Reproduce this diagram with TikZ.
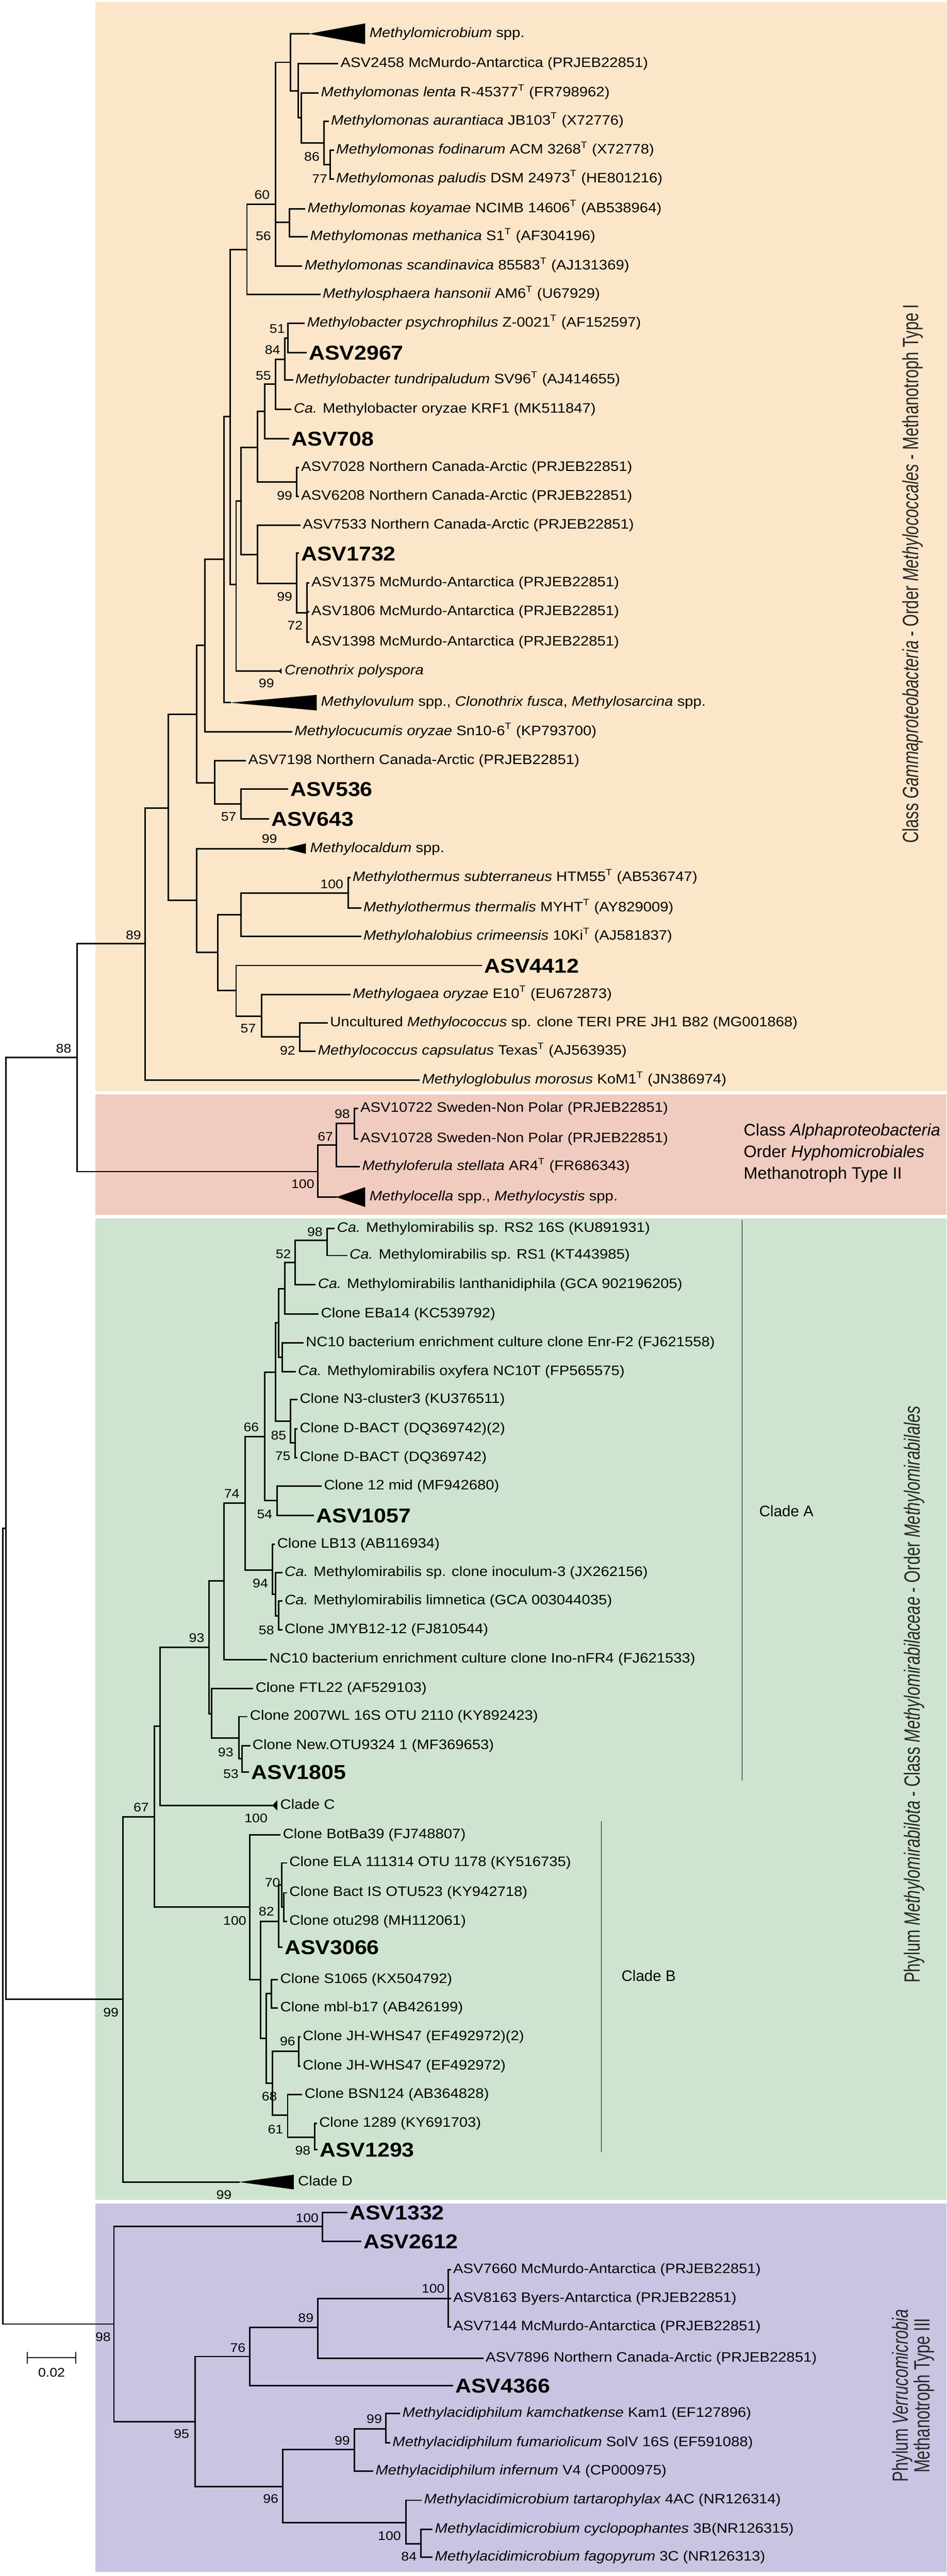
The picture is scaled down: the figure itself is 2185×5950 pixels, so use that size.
\documentclass[tikz,border=0pt]{standalone}
\usepackage{fontspec}
\setmainfont{Liberation Sans}[FakeStretch=1.1]
\newfontfamily\sidefont{Liberation Sans}
\newfontfamily\sidenarrow{Liberation Sans}[FakeStretch=0.72]
\definecolor{gamfill}{RGB}{251,230,202}
\definecolor{alpfill}{RGB}{240,204,192}
\definecolor{mirfill}{RGB}{206,228,208}
\definecolor{verfill}{RGB}{201,196,226}
\begin{document}
\begin{tikzpicture}[x=0.01cm,y=-0.01cm]
    \tikzstyle{br}=[line width=1pt,line cap=rect]
    \tikzstyle{lf}=[anchor=west,inner xsep=2pt,inner ysep=0pt,outer sep=0pt,font=\fontsize{9}{10}\selectfont,text height=6.6pt,text depth=1.9pt]
    \tikzstyle{asv}=[lf,font=\fontsize{13.2}{14}\selectfont\bfseries,text height=9.5pt,text depth=0pt]
    \tikzstyle{bs}=[inner sep=0pt,font=\fontsize{8.2}{9}\selectfont]
    \tikzstyle{side}=[inner sep=0pt,text=black!85,font=\sidenarrow\fontsize{14.5}{14}\selectfont]
    \tikzstyle{clab}=[anchor=west,inner sep=0pt,font=\sidefont\fontsize{10}{12}\selectfont]
    \useasboundingbox (0,0) rectangle (2185,5950);
    \fill[gamfill] (220,5) rectangle (2185,2520);
    \fill[alpfill] (220,2528) rectangle (2185,2806);
    \fill[mirfill] (220,2814) rectangle (2185,5081);
    \fill[verfill] (220,5089) rectangle (2185,5940);

    \node[lf] (mmic) at (846,78) {\textit{Methylomicrobium} spp.};
    \node[lf] (a2458) at (779,147) {ASV2458 McMurdo-Antarctica (PRJEB22851)};
    \node[lf] (mlen) at (734,215) {\textit{Methylomonas lenta} R-45377\textsuperscript{T} (FR798962)};
    \node[lf] (maur) at (757,280) {\textit{Methylomonas aurantiaca} JB103\textsuperscript{T} (X72776)};
    \node[lf] (mfod) at (769,347) {\textit{Methylomonas fodinarum} ACM 3268\textsuperscript{T} (X72778)};
    \node[lf] (mpal) at (769,413) {\textit{Methylomonas paludis} DSM 24973\textsuperscript{T} (HE801216)};
    \node[lf] (mkoy) at (703,482) {\textit{Methylomonas koyamae} NCIMB 14606\textsuperscript{T} (AB538964)};
    \node[lf] (mmet) at (709,547) {\textit{Methylomonas methanica} S1\textsuperscript{T} (AF304196)};
    \node[lf] (msca) at (696,615) {\textit{Methylomonas scandinavica} 85583\textsuperscript{T} (AJ131369)};
    \node[lf] (mhan) at (738,680) {\textit{Methylosphaera hansonii} AM6\textsuperscript{T} (U67929)};
    \node[lf] (mpsy) at (702,747) {\textit{Methylobacter psychrophilus} Z-0021\textsuperscript{T} (AF152597)};
    \node[asv] (a2967) at (706,815) {ASV2967};
    \node[lf] (mtun) at (675,878) {\textit{Methylobacter tundripaludum} SV96\textsuperscript{T} (AJ414655)};
    \node[lf] (mory) at (671,945) {\textit{Ca.} Methylobacter oryzae KRF1 (MK511847)};
    \node[asv] (a708) at (666,1013) {ASV708};
    \node[lf] (a7028) at (688,1080) {ASV7028 Northern Canada-Arctic (PRJEB22851)};
    \node[lf] (a6208) at (688,1147) {ASV6208 Northern Canada-Arctic (PRJEB22851)};
    \node[lf] (a7533) at (692,1213) {ASV7533 Northern Canada-Arctic (PRJEB22851)};
    \node[asv] (a1732) at (688,1278) {ASV1732};
    \node[lf] (a1375) at (712,1347) {ASV1375 McMurdo-Antarctica (PRJEB22851)};
    \node[lf] (a1806) at (712,1413) {ASV1806 McMurdo-Antarctica (PRJEB22851)};
    \node[lf] (a1398) at (712,1483) {ASV1398 McMurdo-Antarctica (PRJEB22851)};
    \node[lf] (cpol) at (650,1550) {\textit{Crenothrix polyspora}};
    \node[lf] (movu) at (734,1623) {\textit{Methylovulum} spp., \textit{Clonothrix fusca}, \textit{Methylosarcina} spp.};
    \node[lf] (mcuc) at (673,1690) {\textit{Methylocucumis oryzae} Sn10-6\textsuperscript{T} (KP793700)};
    \node[lf] (a7198) at (566,1757) {ASV7198 Northern Canada-Arctic (PRJEB22851)};
    \node[asv] (a536) at (663,1823) {ASV536};
    \node[asv] (a643) at (619,1892) {ASV643};
    \node[lf] (mcal) at (709,1960) {\textit{Methylocaldum} spp.};
    \node[lf] (msub) at (807,2027) {\textit{Methylothermus subterraneus} HTM55\textsuperscript{T} (AB536747)};
    \node[lf] (mthe) at (832,2097) {\textit{Methylothermus thermalis} MYHT\textsuperscript{T} (AY829009)};
    \node[lf] (mcri) at (832,2163) {\textit{Methylohalobius crimeensis} 10Ki\textsuperscript{T} (AJ581837)};
    \node[asv] (a4412) at (1111,2230) {ASV4412};
    \node[lf] (mgae) at (807,2297) {\textit{Methylogaea oryzae} E10\textsuperscript{T} (EU672873)};
    \node[lf] (munc) at (755,2363) {Uncultured \textit{Methylococcus} sp. clone TERI PRE JH1 B82 (MG001868)};
    \node[lf] (mcap) at (727,2428) {\textit{Methylococcus capsulatus} Texas\textsuperscript{T} (AJ563935)};
    \node[lf] (mglo) at (967,2495) {\textit{Methyloglobulus morosus} KoM1\textsuperscript{T} (JN386974)};

    \node[lf] (a10722) at (825,2560) {ASV10722 Sweden-Non Polar (PRJEB22851)};
    \node[lf] (a10728) at (825,2630) {ASV10728 Sweden-Non Polar (PRJEB22851)};
    \node[lf] (mste) at (829,2695) {\textit{Methyloferula stellata} AR4\textsuperscript{T} (FR686343)};
    \node[lf] (mcel) at (846,2765) {\textit{Methylocella} spp., \textit{Methylocystis} spp.};

    \node[lf] (rs2) at (771,2838) {\textit{Ca.} Methylomirabilis sp. RS2 16S (KU891931)};
    \node[lf] (rs1) at (800,2900) {\textit{Ca.} Methylomirabilis sp. RS1 (KT443985)};
    \node[lf] (mlan) at (727,2967) {\textit{Ca.} Methylomirabilis lanthanidiphila (GCA 902196205)};
    \node[lf] (eba) at (734,3035) {Clone EBa14 (KC539792)};
    \node[lf] (enr) at (699,3102) {NC10 bacterium enrichment culture clone Enr-F2 (FJ621558)};
    \node[lf] (moxy) at (681,3168) {\textit{Ca.} Methylomirabilis oxyfera NC10T (FP565575)};
    \node[lf] (n3c) at (685,3233) {Clone N3-cluster3 (KU376511)};
    \node[lf] (dba2) at (685,3300) {Clone D-BACT (DQ369742)(2)};
    \node[lf] (dba) at (685,3367) {Clone D-BACT (DQ369742)};
    \node[lf] (c12m) at (741,3432) {Clone 12 mid (MF942680)};
    \node[asv] (a1057) at (723,3500) {ASV1057};
    \node[lf] (lb13) at (633,3567) {Clone LB13 (AB116934)};
    \node[lf] (inoc) at (650,3632) {\textit{Ca.} Methylomirabilis sp. clone inoculum-3 (JX262156)};
    \node[lf] (mlim) at (650,3698) {\textit{Ca.} Methylomirabilis limnetica (GCA 003044035)};
    \node[lf] (jmyb) at (650,3765) {Clone JMYB12-12 (FJ810544)};
    \node[lf] (ino) at (615,3833) {NC10 bacterium enrichment culture clone Ino-nFR4 (FJ621533)};
    \node[lf] (ftl) at (583,3900) {Clone FTL22 (AF529103)};
    \node[lf] (wl) at (570,3965) {Clone 2007WL 16S OTU 2110 (KY892423)};
    \node[lf] (otu9324) at (576,4032) {Clone New.OTU9324 1 (MF369653)};
    \node[asv] (a1805) at (573,4093) {ASV1805};
    \node[lf] (cladeC) at (640,4170) {Clade C};
    \node[lf] (bot) at (646,4238) {Clone BotBa39 (FJ748807)};
    \node[lf] (ela) at (661,4303) {Clone ELA 111314 OTU 1178 (KY516735)};
    \node[lf] (bact) at (661,4372) {Clone Bact IS OTU523 (KY942718)};
    \node[lf] (otu298) at (661,4438) {Clone otu298 (MH112061)};
    \node[asv] (a3066) at (650,4498) {ASV3066};
    \node[lf] (s1065) at (640,4572) {Clone S1065 (KX504792)};
    \node[lf] (mbl) at (640,4638) {Clone mbl-b17 (AB426199)};
    \node[lf] (jh2) at (692,4705) {Clone JH-WHS47 (EF492972)(2)};
    \node[lf] (jh) at (692,4772) {Clone JH-WHS47 (EF492972)};
    \node[lf] (bsn) at (696,4838) {Clone BSN124 (AB364828)};
    \node[lf] (c1289) at (730,4904) {Clone 1289 (KY691703)};
    \node[asv] (a1293) at (731,4965) {ASV1293};
    \node[lf] (cladeD) at (681,5040) {Clade D};

    \node[asv] (a1332) at (800,5110) {ASV1332};
    \node[asv] (a2612) at (832,5177) {ASV2612};
    \node[lf] (a7660) at (1039,5242) {ASV7660 McMurdo-Antarctica (PRJEB22851)};
    \node[lf] (a8163) at (1039,5309) {ASV8163 Byers-Antarctica (PRJEB22851)};
    \node[lf] (a7144) at (1039,5375) {ASV7144 McMurdo-Antarctica (PRJEB22851)};
    \node[lf] (a7896) at (1114,5447) {ASV7896 Northern Canada-Arctic (PRJEB22851)};
    \node[asv] (a4366) at (1044,5510) {ASV4366};
    \node[lf] (mkam) at (922,5575) {\textit{Methylacidiphilum kamchatkense} Kam1 (EF127896)};
    \node[lf] (mfum) at (899,5642) {\textit{Methylacidiphilum fumariolicum} SolV 16S (EF591088)};
    \node[lf] (minf) at (860,5708) {\textit{Methylacidiphilum infernum} V4 (CP000975)};
    \node[lf] (mtar) at (972,5775) {\textit{Methylacidimicrobium tartarophylax} 4AC (NR126314)};
    \node[lf] (mcyc) at (997,5842) {\textit{Methylacidimicrobium cyclopophantes} 3B(NR126315)};
    \node[lf] (mfag) at (997,5907) {\textit{Methylacidimicrobium fagopyrum} 3C (NR126313)};

    \foreach \n/\ax/\bx/\y/\h in {tmmic/713/843/78/24, tcpol/643/650/1550/7, tmovu/531/731/1623/18,
        tmcal/657/706/1960/12, tmcel/776/843/2765/23, tcladeC/629/640/4170/12, tcladeD/552/678/5040/17}
    {
        \coordinate (\n) at (\ax,\y);
        \fill (\n) -- (\bx,\y-\h) -- (\bx,\y+\h) -- cycle;
    }

    \foreach \n/\x/\y in {nE/762/380, nD/748/330, nC/695/272, nB/688/210, nA/671/144, nH/668/514,
        nF/636/472, nG/570/576, nP1/665/781, nP2/657/830, nP3/636/887, nP4/611/950, nQ1/685/1113,
        nP5/594/1033, nR3/709/1415, nR2/685/1348, nR1/594/1281, nX/556/1157, nW/545/1350,
        nV/531/962, nU/517/1292, nS/473/1491, nT7/556/1857, nT6/496/1808, nZ1/454/1650,
        nM2/804/2063, nM1/556/2113, nK3/692/2395, nK2/604/2347, nK1/545/2288, nJ/503/2200,
        nZ2/454/2080, nY/389/1866, ngam/335/2180,
        nAl3/818/2595, nAl2/776/2645, nAl1/734/2706, n88/178/2443,
        g1/755/2865, g2/681/2916, g3/657/2977, g4/652/3135, g5/643/3055, g7/681/3333, g6/671/3283,
        g8/636/3169, g10/640/3466, g9/611/3318, g13/643/3732, g12/636/3682, g11/629/3627,
        g14/566/3472, g15/517/3652, g18/559/4062, g17/552/4014, g16/489/3958, g19/482/3805,
        g20/370/3987, b5/655/4405, b4/650/4354, b2/643/4438, b6/626/4605, b8/690/4738,
        b10/727/4937, b9/664/4886, b7/629/4812, b3/615/4708, b1/601/4573, b0/576/4405,
        g21/356/4197, g22/284/4618,
        v6/1035/5309, v5/734/5376, v4/577/5443, v8/891/5610, v7/818/5658, v10/972/5875,
        v9/937/5827, v11/653/5743, v3/450/5593, v2/744/5142, v1/263/5368,
        r2/14/3530, r1/7/4449}
        \coordinate (\n) at (\x,\y);

    \foreach \p/\c in {nE/mfod, nE/mpal, nD/maur, nD/nE, nC/mlen, nC/nD, nB/a2458, nB/nC,
        nA/tmmic, nA/nB, nH/mkoy, nH/mmet, nF/nA, nF/nH, nF/msca, nG/nF, nG/mhan,
        nP1/mpsy, nP1/a2967, nP2/nP1, nP2/mtun, nP3/nP2, nP3/mory, nP4/nP3, nP4/a708,
        nQ1/a7028, nQ1/a6208, nP5/nP4, nP5/nQ1, nR3/a1375, nR3/a1806, nR3/a1398,
        nR2/a1732, nR2/nR3, nR1/a7533, nR1/nR2, nX/nP5, nX/nR1, nW/nX, nW/tcpol,
        nV/nG, nV/nW, nU/nV, nU/tmovu, nS/nU, nS/mcuc, nT7/a536, nT7/a643, nT6/a7198,
        nT6/nT7, nZ1/nS, nZ1/nT6, nM2/msub, nM2/mthe, nM1/nM2, nM1/mcri, nK3/munc,
        nK3/mcap, nK2/mgae, nK2/nK3, nK1/a4412, nK1/nK2, nJ/nM1, nJ/nK1, nZ2/tmcal,
        nZ2/nJ, nY/nZ1, nY/nZ2, ngam/nY, ngam/mglo,
        nAl3/a10722, nAl3/a10728, nAl2/nAl3, nAl2/mste, nAl1/nAl2, nAl1/tmcel,
        n88/ngam, n88/nAl1,
        g1/rs2, g1/rs1, g2/g1, g2/mlan, g3/g2, g3/eba, g4/enr, g4/moxy, g5/g3, g5/g4,
        g7/dba2, g7/dba, g6/n3c, g6/g7, g8/g5, g8/g6, g10/c12m, g10/a1057, g9/g8, g9/g10,
        g13/mlim, g13/jmyb, g12/inoc, g12/g13, g11/lb13, g11/g12, g14/g9, g14/g11,
        g15/g14, g15/ino, g18/otu9324, g18/a1805, g17/wl, g17/g18, g16/ftl, g16/g17,
        g19/g15, g19/g16, g20/g19, g20/tcladeC, b5/bact, b5/otu298, b4/ela, b4/b5,
        b2/b4, b2/a3066, b6/s1065, b6/mbl, b8/jh2, b8/jh, b10/c1289, b10/a1293,
        b9/bsn, b9/b10, b7/b8, b7/b9, b3/b6, b3/b7, b1/b2, b1/b3, b0/bot, b0/b1,
        g21/g20, g21/b0, g22/g21, g22/tcladeD,
        v6/a7660, v6/a8163, v6/a7144, v5/v6, v5/a7896, v4/v5, v4/a4366, v8/mkam,
        v8/mfum, v7/v8, v7/minf, v10/mcyc, v10/mfag, v9/mtar, v9/v10, v11/v7, v11/v9,
        v3/v4, v3/v11, v2/a1332, v2/a2612, v1/v2, v1/v3,
        r2/n88, r2/g22, r1/r2, r1/v1}
        \draw[br] (\p) |- (\c);

    \foreach \x/\y/\v [count=\i] in {720/362/86, 738/413/77, 605/450/60, 608/545/56, 640/760/51,
        629/808/84, 608/868/55, 657/1145/99, 657/1378/99, 681/1445/72, 615/1578/99, 528/1887/57,
        622/1937/99, 766/2042/100, 308/2160/89, 573/2375/57, 664/2427/92, 147/2422/88,
        790/2573/98, 751/2625/67, 699/2735/100,
        727/2845/98, 654/2897/52, 580/3297/66, 643/3315/85, 653/3363/75, 535/3450/74,
        611/3498/54, 601/3657/94, 615/3765/58, 454/3783/93, 521/4047/93, 533/4097/53,
        591/4200/100, 326/4175/67, 629/4348/70, 615/4415/82, 542/4437/100, 256/4648/99,
        664/4715/96, 622/4842/68, 636/4918/61, 699/4967/98, 517/5070/99,
        709/5123/100, 1000/5286/100, 706/5354/89, 549/5423/76, 238/5398/98, 419/5622/95,
        790/5637/99, 864/5587/99, 625/5772/96, 899/5857/100, 944/5905/84}
        \node[bs] (bs\i) at (\x,\y) {\v};

    \draw[line width=0.6pt] (1713,2818) -- (1713,4113);
    \draw[line width=0.6pt] (1388,4206) -- (1388,4970);
    \node[clab] (cla) at (1752,3490) {Clade A};
    \node[clab] (clb) at (1434,4563) {Clade B};

    \node[side,rotate=90] (lgam) at (2107,1325) {Class \textit{Gammaproteobacteria} - Order \textit{Methylococcales} - Methanotroph Type I};
    \node[side,anchor=west,align=left,text=black,font=\sidefont\fontsize{11}{14.2}\selectfont] (lalp) at (1716,2663) {Class \textit{Alphaproteobacteria}\\Order \textit{Hyphomicrobiales}\\Methanotroph Type II};
    \node[side,rotate=90] (lmir) at (2110,3914) {Phylum \textit{Methylomirabilota} - Class \textit{Methylomirabilaceae} - Order \textit{Methylomirabilales}};
    \node[side,rotate=90,align=center,font=\sidenarrow\fontsize{14.5}{14}\selectfont] (lver) at (2108,5533) {Phylum \textit{Verrucomicrobia}\\Methanotroph Type III};

    \draw[line width=0.8pt] (63,5432) -- (63,5460) (63,5445) -- (175,5445) (175,5432) -- (175,5460);
    \node[bs] (scl) at (119,5480) {0.02};
\end{tikzpicture}
\end{document}
